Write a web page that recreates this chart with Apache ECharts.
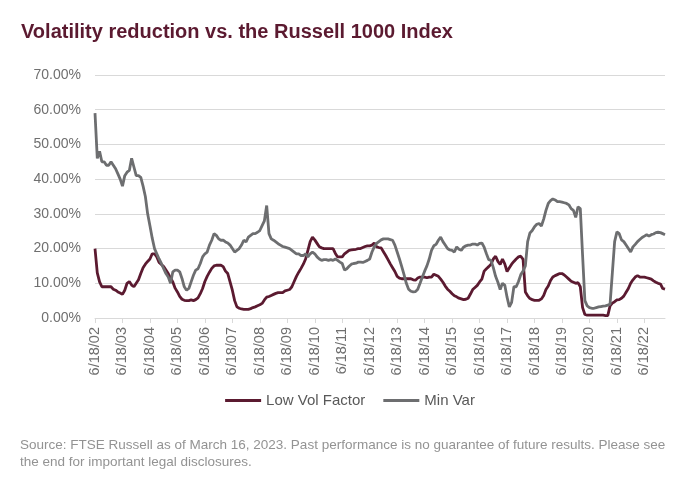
<!DOCTYPE html>
<html>
<head>
<meta charset="utf-8">
<script src="https://cdn.jsdelivr.net/npm/echarts@6/dist/echarts.min.js"></script>
<style>
  html, body { margin: 0; padding: 0; background: #fff; }
  #chart { width: 700px; height: 495px; }
</style>
</head>
<body>
<div id="chart"></div>
<script>
// monthly samples from 6/18/02 to 3/18/23, values in %
var lowVol = [
  20, 13, 10.4, 9, 9, 9, 9, 9, 8.3, 8, 7.5, 7.2, 6.8, 8, 10, 10.5, 9.5, 9, 10, 11,
  12.8, 14.5, 15.5, 16.3, 17, 18.5, 18.5, 17.6, 16, 15.4, 14.8, 13.8, 12.8, 11.5, 10.4, 8.6, 7.5, 6.2, 5.4, 5.1,
  5, 5, 5.2, 5, 5.3, 5.8, 7, 8.5, 10.5, 12, 13.2, 14.3, 15, 15.2, 15.2, 15.2, 14.8, 13.5, 12.8, 10.4,
  8, 5, 3.2, 2.8, 2.6, 2.5, 2.5, 2.5, 2.7, 3, 3.2, 3.5, 3.8, 4.2, 5.2, 6, 6.2, 6.5, 6.8, 7.1,
  7.3, 7.3, 7.3, 7.8, 8, 8.2, 9, 10.5, 12, 13.2, 14.3, 15.5, 17, 19.5, 22, 23.3, 22.5, 21.5, 20.5, 20.2,
  20, 20, 20, 20, 20, 18.6, 17.6, 17.6, 17.6, 18.5, 19, 19.5, 19.6, 19.7, 19.8, 20, 20, 20.3, 20.6, 20.8,
  20.8, 21, 21.6, 20.5, 20.3, 20.2, 19.1, 18, 16.8, 15.6, 14.5, 13.4, 12, 11.5, 11.3, 11.3, 11.3, 11.3, 11.3, 11,
  10.9, 11.5, 11.8, 11.8, 11.8, 11.6, 11.8, 11.8, 12.6, 12.3, 12, 11.2, 10.3, 9.2, 8.3, 7.7, 7, 6.4, 6.1, 5.7,
  5.5, 5.3, 5.4, 5.7, 6.9, 8.2, 8.8, 9.4, 10.4, 11.2, 13.5, 14.2, 14.8, 15.5, 17, 17.8, 16.3, 15.4, 17, 15.6,
  13.4, 14.5, 15.5, 16.3, 17, 17.6, 17.8, 16.9, 7.5, 6.4, 5.6, 5.3, 5.1, 5.1, 5.1, 5.5, 6.5, 8.2, 9.2, 10.8,
  11.8, 12.2, 12.5, 12.8, 12.8, 12.4, 11.8, 11.2, 10.6, 10.3, 10, 10.2, 9, 3, 1, 0.8, 0.8, 0.8, 0.8, 0.8,
  0.8, 0.8, 0.8, 0.7, 0.7, 3.5, 4.3, 4.7, 5.2, 5.3, 5.7, 6.3, 7.4, 8.5, 10, 11, 11.8, 12.2, 11.8, 11.8,
  11.8, 11.6, 11.4, 11.2, 10.7, 10.3, 10, 9.8, 8.5, 8.3
];
var minVar = [
  59, 46, 48, 45, 45, 44, 44, 45, 44, 43, 41.5, 40, 38, 41, 42, 42.5, 46, 43.5, 41, 41,
  40.5, 38, 35, 30, 26.6, 23, 20, 18.5, 17, 15.7, 14.2, 12.8, 11.8, 10, 13.3, 13.8, 13.8, 13.3, 11.4, 9,
  8, 8.5, 10.4, 12.3, 13.8, 14.2, 15.7, 17.6, 18.5, 19, 21, 22.4, 24.3, 23.8, 22.8, 22.4, 22.4, 21.9, 21.6, 21,
  20, 19, 19.5, 20, 21, 22.4, 21.9, 23.3, 23.8, 24.3, 24.3, 24.7, 25.2, 26.6, 28, 32.4, 24.3, 22.8, 22.4, 21.9,
  21.4, 21, 20.6, 20.4, 20.2, 20, 19.5, 19, 18.5, 18.5, 18, 18, 18.5, 17.6, 18.5, 19, 18.5, 17.6, 17, 16.6,
  16.8, 16.8, 16.6, 16.8, 16.6, 17, 16.6, 16.1, 15.7, 13.8, 14.2, 14.9, 15.5, 15.7, 15.8, 16.1, 16.1, 16, 16.3, 16.6,
  17, 19, 20.5, 21.5, 22, 22.5, 22.8, 22.8, 22.8, 22.6, 22.4, 21, 19, 17, 14.8, 12.5, 10, 8.3, 7.7, 7.5,
  7.6, 8.3, 10, 11.8, 13.5, 15, 17, 19.5, 20.8, 21.2, 22.4, 23.3, 22, 21, 20, 19.6, 19.5, 19, 20.5, 19.8,
  19.5, 20.4, 20.8, 21, 21, 21.3, 21.3, 21, 21.5, 21.6, 20.4, 18.5, 16.8, 16.6, 14.5, 12, 10.3, 8.2, 10, 9.5,
  6, 3.2, 4.5, 9, 9, 10.5, 12.5, 13.5, 15, 22, 24.5, 25.2, 26.3, 27, 27.2, 26.5, 28.5, 31, 33, 33.8,
  34.3, 34, 33.5, 33.5, 33.4, 33.2, 33, 32.6, 31.5, 31, 29, 32, 31.5, 18, 5, 3.5, 3, 2.8, 2.8, 3,
  3.2, 3.3, 3.4, 3.5, 3.7, 4, 13, 22, 24.8, 24.3, 22.5, 22, 21, 20, 19, 20.5, 21.2, 22, 22.6, 23.2,
  23.6, 24, 23.6, 24, 24.2, 24.6, 24.7, 24.6, 24.3, 24
];
var seriesNames = ['Low Vol Factor', 'Min Var'];
var yTicks = [0, 10, 20, 30, 40, 50, 60, 70];

var dates = [];
for (var i = 0; i < lowVol.length; i++) {
  var m = ((5 + i) % 12) + 1;
  var y = 2 + Math.floor((5 + i) / 12);
  dates.push(m + '/18/' + (y < 10 ? '0' + y : y));
}

var font = '"Liberation Sans", Arial, sans-serif';
var chart = echarts.init(document.getElementById('chart'));
chart.setOption({
  animation: false,
  title: {
    text: 'Volatility reduction vs. the Russell 1000 Index',
    left: 16,
    top: 17,
    textStyle: { color: '#5b1a30', fontSize: 20, fontWeight: 'bold', fontFamily: font }
  },
  grid: { left: 95, right: 35, top: 75, bottom: 177 },
  legend: {
    bottom: 82,
    left: 'center',
    icon: 'rect',
    itemWidth: 36,
    itemHeight: 3,
    itemGap: 18,
    textStyle: { color: '#595959', fontSize: 15, fontFamily: font },
    data: seriesNames
  },
  xAxis: {
    type: 'category',
    boundaryGap: false,
    data: dates,
    axisLine: { lineStyle: { color: '#d9d9d9' } },
    axisTick: { interval: 11, length: 5, lineStyle: { color: '#d9d9d9' } },
    axisLabel: {
      interval: 11,
      rotate: 90,
      margin: 9,
      color: '#6f6f6f',
      fontSize: 14.5,
      fontFamily: font
    },
    splitLine: { show: false }
  },
  yAxis: {
    type: 'value',
    min: yTicks[0],
    max: yTicks[yTicks.length - 1],
    interval: 10,
    axisLine: { show: false },
    axisTick: { show: false },
    axisLabel: {
      margin: 14,
      color: '#6f6f6f',
      fontSize: 14,
      fontFamily: font,
      formatter: function (v) { return v.toFixed(2) + '%'; }
    },
    splitLine: { lineStyle: { color: '#d9d9d9', width: 1 } }
  },
  series: [
    {
      name: seriesNames[0],
      type: 'line',
      data: lowVol,
      showSymbol: false,
      color: '#5b1a30',
      lineStyle: { width: 2.8, color: '#5b1a30' }
    },
    {
      name: seriesNames[1],
      type: 'line',
      data: minVar,
      showSymbol: false,
      color: '#6d6e70',
      lineStyle: { width: 2.8, color: '#6d6e70' }
    }
  ],
  graphic: [
    {
      type: 'text',
      left: 20,
      top: 437,
      style: {
        text: 'Source: FTSE Russell as of March 16, 2023. Past performance is no guarantee of future results. Please see\nthe end for important legal disclosures.',
        fill: '#939393',
        fontSize: 13.5,
        lineHeight: 17,
        fontFamily: font
      }
    }
  ]
});
</script>
</body>
</html>
